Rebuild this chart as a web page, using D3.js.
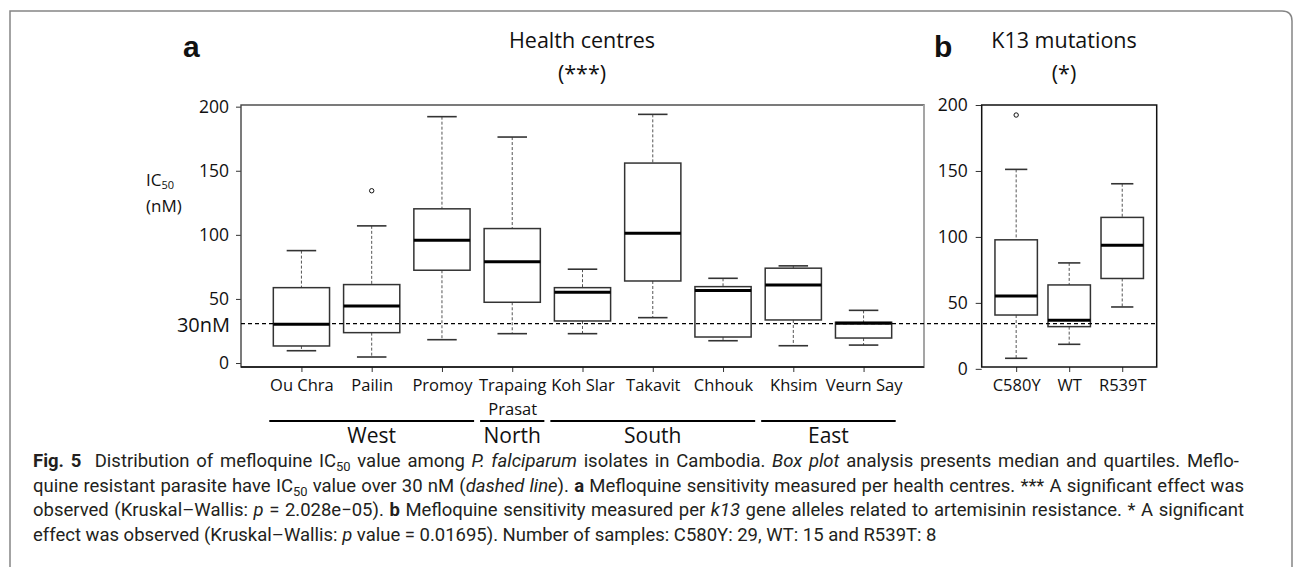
<!DOCTYPE html>
<html>
<head>
<meta charset="utf-8">
<script src="https://cdn.jsdelivr.net/npm/d3@7"></script>
<style>
  body { margin: 0; background: #fff; }
  text { font-family: "Open Sans", "Noto Sans", sans-serif; fill: #111; }
  .caption text, text.caption { font-family: Roboto, "Open Sans", sans-serif; fill: #231f20; }
</style>
</head>
<body>
<div class="canvas"></div>
<script>
// health centres (panel a)
const centres = ['Ou Chra', 'Pailin', 'Promoy', 'Trapaing Prasat', 'Koh Slar', 'Takavit', 'Chhouk', 'Khsim', 'Veurn Say'];
const centreLow = [9.6, 4.7, 18.2, 22.9, 22.9, 35.4, 17.4, 13.5, 14];
const centreQ1 = [13.3, 23.7, 72.4, 47.4, 32.8, 64, 20.3, 33.6, 19.5];
const centreMedian = [30.2, 44.5, 95.8, 79.1, 55.2, 101.3, 56.5, 60.9, 31];
const centreQ3 = [58.8, 61.2, 120.3, 104.9, 58.8, 156, 59.6, 74, 31.8];
const centreHigh = [87.7, 107, 192.2, 176.3, 73.2, 194, 66.1, 75.8, 41.1];
const centreOutliers = [[], [134.4], [], [], [], [], [], [], []];

// regions under the centre labels
const regions = ['West', 'North', 'South', 'East'];
const regionFirst = ['Ou Chra', 'Trapaing Prasat', 'Koh Slar', 'Khsim'];
const regionLast = ['Promoy', 'Trapaing Prasat', 'Chhouk', 'Veurn Say'];

// k13 alleles (panel b)
const alleles = ['C580Y', 'WT', 'R539T'];
const alleleLow = [8, 18.6, 46.9];
const alleleQ1 = [40.8, 32, 68.5];
const alleleMedian = [55.3, 36.8, 93.7];
const alleleQ3 = [97.8, 63.6, 114.8];
const alleleHigh = [151.2, 80.3, 140.3];
const alleleOutliers = [[192.4], [], []];

const yTicks = [0, 50, 100, 150, 200];
const cutoff = 30.8;

const svg = d3.select('.canvas')
    .append('svg')
    .attr('width', 1293)
    .attr('height', 567);

// figure frame with the rounded corner
svg.append('path')
    .attr('d', 'M10,567 L10,11 L1282,11 Q1292,11 1292,21 L1292,567')
    .attr('fill', 'none')
    .attr('stroke', '#858585')
    .attr('stroke-width', 1.5);

const plotTop = 105, plotBottom = 367;

const xA = d3.scalePoint().domain(centres).range([241, 924]).padding(0.86);
const yA = d3.scaleLinear().domain([-3.1, 201.3]).range([plotBottom, plotTop]);

const xB = d3.scalePoint().domain(alleles).range([981.7, 1156.7]).padding(0.65);
const yB = d3.scaleLinear().domain([1.4, 200]).range([plotBottom, plotTop]);

function stats(cats, lo, q1, med, q3, hi, out) {
    return cats.map((c, i) => ({name: c, lo: lo[i], q1: q1[i], med: med[i], q3: q3[i], hi: hi[i], out: out[i]}));
}

function drawBoxes(g, data, x, y) {
    const boxW = x.step() * 0.8;
    const capW = x.step() * 0.42;
    const grp = g.selectAll('g.box')
        .data(data)
        .enter()
        .append('g')
            .attr('class', 'box')
            .attr('transform', d => `translate(${x(d.name)},0)`);

    // whiskers
    grp.append('line')
        .attr('y1', d => y(d.hi)).attr('y2', d => y(d.q3))
        .attr('stroke', '#555').attr('stroke-dasharray', '3,2');
    grp.append('line')
        .attr('y1', d => y(d.q1)).attr('y2', d => y(d.lo))
        .attr('stroke', '#555').attr('stroke-dasharray', '3,2');
    grp.append('line')
        .attr('x1', -capW / 2).attr('x2', capW / 2)
        .attr('y1', d => y(d.hi)).attr('y2', d => y(d.hi))
        .attr('stroke', '#333').attr('stroke-width', 1.6);
    grp.append('line')
        .attr('x1', -capW / 2).attr('x2', capW / 2)
        .attr('y1', d => y(d.lo)).attr('y2', d => y(d.lo))
        .attr('stroke', '#333').attr('stroke-width', 1.6);

    grp.append('rect')
        .attr('x', -boxW / 2)
        .attr('width', boxW)
        .attr('y', d => y(d.q3))
        .attr('height', d => y(d.q1) - y(d.q3))
        .attr('fill', 'none')
        .attr('stroke', '#333')
        .attr('stroke-width', 1.5);

    grp.append('line')
        .attr('x1', -boxW / 2).attr('x2', boxW / 2)
        .attr('y1', d => y(d.med)).attr('y2', d => y(d.med))
        .attr('stroke', '#000').attr('stroke-width', 3);

    grp.selectAll('circle')
        .data(d => d.out)
        .enter()
        .append('circle')
            .attr('cy', v => y(v))
            .attr('r', 2.2)
            .attr('fill', 'none')
            .attr('stroke', '#111')
            .attr('stroke-width', 1);
}

function yAxis(g, y, size, pad) {
    g.call(d3.axisLeft(y).tickValues(yTicks).tickSize(size).tickPadding(pad))
        .call(a => a.select('.domain').remove());
    g.selectAll('.tick line').attr('stroke', '#333');
    g.selectAll('.tick text').style('font-size', '17.5px').attr('fill', '#111');
}

// panel a
const gA = svg.append('g');
yAxis(gA.append('g').attr('transform', 'translate(241,0)'), yA, 5, 7);

const xAxisA = gA.append('g')
    .attr('transform', `translate(0,${plotBottom})`)
    .call(d3.axisBottom(xA).tickSize(5).tickPadding(7));
xAxisA.select('.domain').remove();
xAxisA.selectAll('.tick line').attr('stroke', '#333');
xAxisA.selectAll('.tick text')
    .style('font-size', '16.5px')
    .attr('fill', '#111')
    .each(function(d) {
        const parts = d.split(' ');
        if (d === 'Trapaing Prasat') {
            const t = d3.select(this).text(null);
            t.append('tspan').attr('x', 0).text(parts[0]);
            t.append('tspan').attr('x', 0).attr('dy', '1.45em').text(parts[1]);
        }
    });

drawBoxes(gA, stats(centres, centreLow, centreQ1, centreMedian, centreQ3, centreHigh, centreOutliers), xA, yA);

gA.append('rect')
    .attr('x', 241).attr('y', plotTop)
    .attr('width', 924 - 241).attr('height', plotBottom - plotTop)
    .attr('fill', 'none').attr('stroke', '#444').attr('stroke-width', 1.4);
gA.append('line')
    .attr('x1', 924).attr('x2', 924).attr('y1', plotTop).attr('y2', plotBottom)
    .attr('stroke', '#a5a5a5').attr('stroke-width', 2);
gA.append('line')
    .attr('x1', 241).attr('x2', 924).attr('y1', plotBottom).attr('y2', plotBottom)
    .attr('stroke', '#111').attr('stroke-width', 1.6);

// region bars
const half = xA.step() / 2;
regions.forEach((r, i) => {
    const x0 = xA(regionFirst[i]) - half + 3;
    const x1 = xA(regionLast[i]) + half - 3;
    gA.append('line')
        .attr('x1', x0).attr('x2', x1).attr('y1', 421).attr('y2', 421)
        .attr('stroke', '#000').attr('stroke-width', 2.2);
    gA.append('text')
        .attr('x', (x0 + x1) / 2).attr('y', 443)
        .attr('text-anchor', 'middle')
        .style('font-size', '21px')
        .text(r);
});

// panel b
const gB = svg.append('g');
yAxis(gB.append('g').attr('transform', 'translate(981.7,0)'), yB, 6, 8);
const xAxisB = gB.append('g')
    .attr('transform', `translate(0,${plotBottom})`)
    .call(d3.axisBottom(xB).tickSize(5).tickPadding(7));
xAxisB.select('.domain').remove();
xAxisB.selectAll('.tick line').attr('stroke', '#333');
xAxisB.selectAll('.tick text').style('font-size', '16.5px').attr('fill', '#111');

drawBoxes(gB, stats(alleles, alleleLow, alleleQ1, alleleMedian, alleleQ3, alleleHigh, alleleOutliers), xB, yB);

gB.append('rect')
    .attr('x', 981.7).attr('y', plotTop)
    .attr('width', 1156.7 - 981.7).attr('height', plotBottom - plotTop)
    .attr('fill', 'none').attr('stroke', '#111').attr('stroke-width', 1.5);

// 30 nM cut-off, one line across both panels
svg.append('line')
    .attr('x1', 241).attr('x2', 1156.7)
    .attr('y1', yA(cutoff)).attr('y2', yA(cutoff))
    .attr('stroke', '#000').attr('stroke-width', 1.3)
    .attr('stroke-dasharray', '4,3');
svg.append('text')
    .attr('x', 230).attr('y', yA(cutoff) + 8)
    .attr('text-anchor', 'end')
    .style('font-size', '20px')
    .text('30nM');

// titles
function title(x, lines) {
    lines.forEach((l, i) => {
        svg.append('text')
            .attr('x', x).attr('y', 48 + i * 33)
            .attr('text-anchor', 'middle')
            .style('font-size', '21.5px')
            .text(l);
    });
}
title(582, ['Health centres', '(***)']);
title(1064, ['K13 mutations', '(*)']);

svg.append('text').attr('x', 183).attr('y', 57)
    .style('font-family', '"Liberation Sans", Arial, sans-serif')
    .style('font-weight', 'bold').style('font-size', '30px')
    .text('a');
svg.append('text').attr('x', 934).attr('y', 57)
    .style('font-family', '"Liberation Sans", Arial, sans-serif')
    .style('font-weight', 'bold').style('font-size', '30px')
    .text('b');

const yLab = svg.append('text').attr('x', 146).attr('y', 186).style('font-size', '17px');
yLab.append('tspan').text('IC');
yLab.append('tspan').attr('dy', 3).style('font-size', '11px').text('50');
svg.append('text').attr('x', 146).attr('y', 212).style('font-size', '17px').text('(nM)');

// caption
const captionLines = [
    [['Fig. 5', 'b'], ['  Distribution of mefloquine IC', ''], ['50', 's'], [' value among ', ''], ['P. falciparum', 'i'], [' isolates in Cambodia. ', ''], ['Box plot', 'i'], [' analysis presents median and quartiles. Meflo-', '']],
    [['quine resistant parasite have IC', ''], ['50', 's'], [' value over 30 nM (', ''], ['dashed line', 'i'], ['). ', ''], ['a', 'b'], [' Mefloquine sensitivity measured per health centres. *** A significant effect was', '']],
    [['observed (Kruskal\u2013Wallis: ', ''], ['p', 'i'], [' = 2.028e\u221205). ', ''], ['b', 'b'], [' Mefloquine sensitivity measured per ', ''], ['k13', 'i'], [' gene alleles related to artemisinin resistance. * A significant', '']],
    [['effect was observed (Kruskal\u2013Wallis: ', ''], ['p', 'i'], [' value = 0.01695). Number of samples: C580Y: 29, WT: 15 and R539T: 8', '']]
];
const captionRight = [1239, 1244, 1244, 937];
const capLeft = 33;

const cap = svg.append('g').attr('class', 'caption');
const capNodes = captionLines.map((segs, i) => {
    const t = cap.append('text')
        .attr('x', capLeft).attr('y', 467 + i * 24.5)
        .style('font-size', '16px')
        .attr('xml:space', 'preserve');
    let sub = false;
    segs.forEach(([s, st]) => {
        const ts = t.append('tspan').text(s);
        if (st === 'b') ts.style('font-weight', 'bold');
        if (st === 'i') ts.style('font-style', 'italic');
        if (st === 's') { ts.attr('dy', 4).attr('class', 'sub'); sub = true; }
        else if (sub) { ts.attr('dy', -4); sub = false; }
    });
    return t;
});

// size the font off the last (unjustified) line, then justify the others
const natural = capNodes[3].node().getComputedTextLength();
const fs = 16 * (captionRight[3] - capLeft) / natural;
capNodes.forEach(t => {
    t.style('font-size', fs + 'px');
    t.selectAll('tspan.sub').style('font-size', (fs * 0.7) + 'px');
});
capNodes.slice(0, 3).forEach((t, i) => {
    const w = t.node().getComputedTextLength();
    const spaces = (t.text().match(/ /g) || []).length;
    t.style('word-spacing', ((captionRight[i] - capLeft - w) / spaces) + 'px');
});
</script>
</body>
</html>
